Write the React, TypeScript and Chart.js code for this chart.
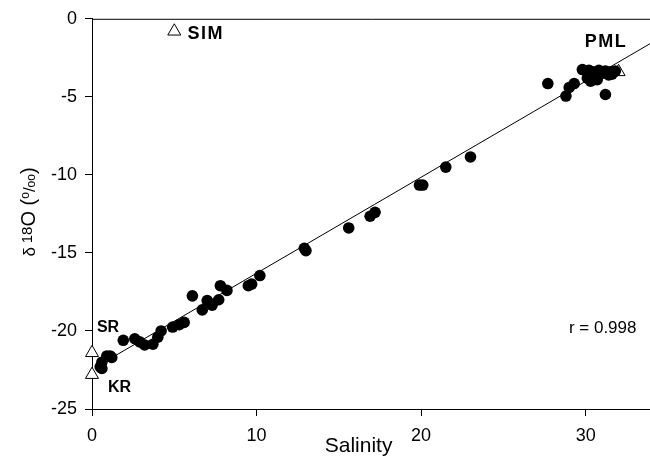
import React, { useEffect, useRef } from "react";
import { Chart, registerables } from "chart.js";
Chart.register(...registerables);

// ---- data ----
const xTicks = [0, 10, 20, 30];
const yTicks = [-25, -20, -15, -10, -5, 0];

const sampleSalinity = [
  0.5, 0.6, 0.6, 0.9, 1.1, 1.2, 1.9, 2.6, 2.9, 3.2, 3.7, 4.0, 4.2, 4.9, 5.3, 5.6,
  6.1, 6.7, 7.0, 7.3, 7.7, 7.8, 8.2, 9.5, 9.7, 10.2, 12.9, 13.0, 15.6, 16.9, 17.2,
  19.9, 20.1, 21.5, 23.0, 27.7, 28.8, 29.0, 29.3, 31.2, 29.8, 30.1, 30.3, 30.2,
  30.4, 30.6, 30.7, 30.8, 31.0, 31.2, 31.4, 31.5, 31.6, 31.8,
];
const sampleD18O = [
  -22.3, -22.0, -22.4, -21.6, -21.6, -21.7, -20.6, -20.5, -20.7, -20.9, -20.85, -20.4, -20.0, -19.75, -19.6, -19.45,
  -17.75, -18.65, -18.05, -18.35, -18.0, -17.1, -17.4, -17.1, -17.0, -16.45, -14.7, -14.85, -13.4, -12.65, -12.4,
  -10.65, -10.65, -9.5, -8.85, -4.15, -4.95, -4.4, -4.15, -4.85, -3.25, -3.8, -4.0, -3.3,
  -3.4, -3.6, -3.9, -3.3, -3.5, -3.35, -3.6, -3.4, -3.55, -3.35,
];

const endMemberNames = ["SIM", "PML", "SR", "KR"];
const endMemberSalinity = [5.0, 32.0, 0.0, 0.0];
const endMemberD18O = [-0.8, -3.4, -21.4, -22.8];

const fitSalinity = [0.3, 34];
const fitD18O = [-22.27, -1.54];

const noteTexts = ["SIM", "PML", "SR", "KR", "r = 0.998"];
const noteSalinity = [5.81, 29.95, 0.3, 0.97, 28.98];
const noteD18O = [-1.28, -1.79, -20.09, -23.92, -20.15];
const noteBold = [true, true, true, true, false];

const X_MIN = 0, X_MAX = 34, Y_MIN = -25, Y_MAX = 0;

const FONT = "'Liberation Sans', Arial, sans-serif";

const overlayPlugin = {
  id: "overlay",
  afterDraw(chart: any) {
    const { ctx, chartArea, scales } = chart;
    const xs = scales.x, ys = scales.y;
    ctx.save();
    // top frame line
    ctx.strokeStyle = "#000";
    ctx.lineWidth = 1;
    ctx.beginPath();
    ctx.moveTo(chartArea.left, chartArea.top + 0.5);
    ctx.lineTo(chartArea.right, chartArea.top + 0.5);
    ctx.stroke();

    // annotations
    ctx.fillStyle = "#000";
    ctx.textBaseline = "alphabetic";
    ctx.textAlign = "left";
    noteTexts.forEach((t, i) => {
      const big = t === "SIM" || t === "PML";
      ctx.font = `${noteBold[i] ? "bold " : ""}${big ? 18 : noteBold[i] ? 16 : 17}px ${FONT}`;
      (ctx as any).letterSpacing = big ? "1.5px" : "0px";
      ctx.fillText(t, xs.getPixelForValue(noteSalinity[i]), ys.getPixelForValue(noteD18O[i]));
    });
    (ctx as any).letterSpacing = "0px";

    // x title
    ctx.font = `21px ${FONT}`;
    ctx.textAlign = "center";
    ctx.fillText("Salinity", xs.getPixelForValue(16.2), 452);

    // y title (rotated)
    const segs = [
      { t: "δ", s: 17, dy: 0 },
      { t: " ", s: 14, dy: 0 },
      { t: "18", s: 15, dy: -3 },
      { t: "O", s: 20, dy: 0 },
      { t: " (", s: 20, dy: 0 },
      { t: "o", s: 12, dy: -6 },
      { t: "/", s: 17, dy: 0 },
      { t: "oo", s: 12, dy: 0 },
      { t: ")", s: 20, dy: 0 },
    ];
    let total = 0;
    segs.forEach((sg) => {
      ctx.font = `${sg.s}px ${FONT}`;
      total += ctx.measureText(sg.t).width;
    });
    ctx.translate(35, 212);
    ctx.rotate(-Math.PI / 2);
    ctx.textAlign = "left";
    let cx = -total / 2;
    segs.forEach((sg) => {
      ctx.font = `${sg.s}px ${FONT}`;
      ctx.fillText(sg.t, cx, sg.dy);
      cx += ctx.measureText(sg.t).width;
    });
    ctx.restore();
  },
};

export default function App() {
  const ref = useRef<HTMLCanvasElement | null>(null);
  useEffect(() => {
    document.body.style.margin = "0";
    document.body.style.overflow = "hidden";
    const canvas = ref.current!;
    const chart = new Chart(canvas, {
      type: "scatter",
      data: {
        datasets: [
          {
            type: "line",
            data: fitSalinity.map((x, i) => ({ x, y: fitD18O[i] })),
            borderColor: "#000",
            borderWidth: 1,
            pointRadius: 0,
            fill: false,
          } as any,
          {
            data: sampleSalinity.map((x, i) => ({ x, y: sampleD18O[i] })),
            backgroundColor: "#000",
            borderColor: "#000",
            borderWidth: 0,
            pointRadius: 5.8,
            pointStyle: "circle",
          },
          {
            data: endMemberSalinity.map((x, i) => ({ x, y: endMemberD18O[i], name: endMemberNames[i] })),
            backgroundColor: "#fff",
            borderColor: "#000",
            borderWidth: 1,
            pointRadius: 7.5,
            pointStyle: "triangle",
            clip: false,
          } as any,
        ],
      },
      options: {
        responsive: false,
        animation: false,
        devicePixelRatio: 1,
        layout: { padding: { top: 17, right: 6, left: 0, bottom: 0 } },
        plugins: { legend: { display: false }, tooltip: { enabled: false }, title: { display: false } },
        scales: {
          x: {
            type: "linear",
            min: X_MIN,
            max: X_MAX,
            afterBuildTicks: (s: any) => { s.ticks = xTicks.map((v) => ({ value: v })); },
            afterFit: (s: any) => { s.height = 48; },
            grid: { drawOnChartArea: false, drawTicks: true, tickLength: 7, color: "#000" },
            border: { display: true, color: "#000", width: 1 },
            ticks: { color: "#000", font: { family: FONT, size: 18 }, padding: 9, maxRotation: 0 },
          },
          y: {
            type: "linear",
            min: Y_MIN,
            max: Y_MAX,
            afterBuildTicks: (s: any) => { s.ticks = yTicks.map((v) => ({ value: v })); },
            afterFit: (s: any) => { s.width = 92; },
            grid: { drawOnChartArea: false, drawTicks: true, tickLength: 7, color: "#000" },
            border: { display: true, color: "#000", width: 1 },
            ticks: { color: "#000", font: { family: FONT, size: 18 }, padding: 8 },
          },
        },
      },
      plugins: [overlayPlugin],
    });
    return () => chart.destroy();
  }, []);
  return (
    <div style={{ width: 650, height: 457, overflow: "hidden", position: "relative" }}>
      <canvas ref={ref} width={660} height={457} style={{ display: "block" }} />
    </div>
  );
}
